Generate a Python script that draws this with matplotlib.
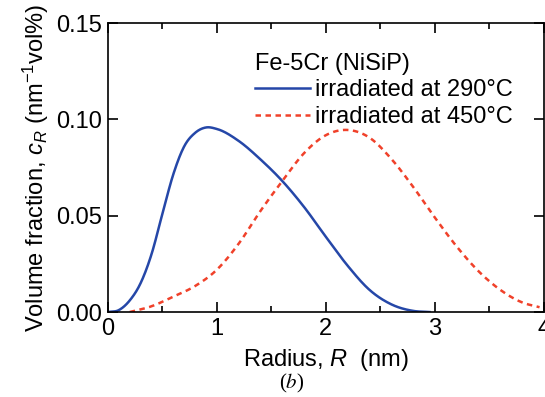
import numpy as np
import matplotlib
matplotlib.use('Agg')
import matplotlib.pyplot as plt
from matplotlib.ticker import MultipleLocator, FormatStrFormatter

plt.rcParams['font.family'] = ['Liberation Sans', 'DejaVu Sans']
plt.rcParams['mathtext.fontset'] = 'custom'
plt.rcParams['mathtext.rm'] = 'Liberation Sans'
plt.rcParams['mathtext.it'] = 'Liberation Sans:italic'

# blue curve: irradiated at 290 C
r_290 = [0.0, 0.1, 0.2, 0.3, 0.4, 0.5, 0.6, 0.7, 0.8, 0.9, 1.0, 1.2, 1.4,
         1.6, 1.8, 2.0, 2.2, 2.4, 2.6, 2.8, 2.95]
c_290 = [0.0, 0.001, 0.006, 0.015, 0.030, 0.051, 0.0715, 0.0860, 0.0930, 0.0958, 0.0950,
         0.0888, 0.0792, 0.0680, 0.0545, 0.0390, 0.0240, 0.0115, 0.0040, 0.0006, 0.0]

# red dashed curve: irradiated at 450 C
r_450 = [0.2, 0.4, 0.6, 0.8, 1.0, 1.2, 1.4, 1.6, 1.8, 2.0, 2.2, 2.4,
         2.6, 2.8, 3.0, 3.2, 3.4, 3.6, 3.8, 3.96]
c_450 = [0.0, 0.003, 0.008, 0.0135, 0.022, 0.0355, 0.0525, 0.068, 0.0825, 0.0918, 0.0945, 0.0905,
         0.0795, 0.0650, 0.0490, 0.0340, 0.0212, 0.0115, 0.0050, 0.0025]

labels = ['irradiated at 290°C', 'irradiated at 450°C']


def smooth(x, y):
    # cubic Hermite through the read points
    x = np.asarray(x, float)
    y = np.asarray(y, float)
    m = np.gradient(y, x)
    xs, ys = [], []
    for i in range(len(x) - 1):
        h = x[i + 1] - x[i]
        t = np.linspace(0, 1, 25, endpoint=False)
        h00 = 2 * t**3 - 3 * t**2 + 1
        h10 = t**3 - 2 * t**2 + t
        h01 = -2 * t**3 + 3 * t**2
        h11 = t**3 - t**2
        xs.append(x[i] + t * h)
        ys.append(h00 * y[i] + h10 * h * m[i] + h01 * y[i + 1] + h11 * h * m[i + 1])
    xs.append([x[-1]])
    ys.append([y[-1]])
    return np.concatenate(xs), np.clip(np.concatenate(ys), 0, None)


fig = plt.figure(figsize=(5.45, 3.97), dpi=100)
ax = fig.add_axes([0.198, 0.214, 0.800, 0.728])

x1, y1 = smooth(r_290, c_290)
x2, y2 = smooth(r_450, c_450)
ax.plot(x1, y1, color='#2547a8', lw=1.8, label=labels[0])
ax.plot(x2, y2, color='#f0412a', lw=1.8, ls=(0, (2.2, 1.8)), label=labels[1])

ax.set_xlim(0, 4)
ax.set_ylim(0, 0.15)
ax.xaxis.set_major_locator(MultipleLocator(1))
ax.xaxis.set_minor_locator(MultipleLocator(0.5))
ax.yaxis.set_major_locator(MultipleLocator(0.05))
ax.yaxis.set_major_formatter(FormatStrFormatter('%.2f'))
ax.tick_params(which='both', direction='in', top=True, right=True, width=1.2,
               labelsize=17, pad=4)
ax.tick_params(which='major', length=7)
ax.tick_params(which='minor', length=4)
for s in ax.spines.values():
    s.set_linewidth(1.2)

ax.set_xlabel('Radius, $\\it{R}$  (nm)', fontsize=17, labelpad=5)
ax.set_ylabel('Volume fraction, $c_R$ (nm$^{-1}$vol%)', fontsize=17, labelpad=4)

leg = ax.legend(loc='upper left', bbox_to_anchor=(0.338, 0.898), frameon=False,
                title='Fe-5Cr (NiSiP)', fontsize=17, title_fontsize=17,
                handlelength=2.3, handletextpad=0.25, labelspacing=0.2,
                borderaxespad=0, borderpad=0)
leg._legend_box.align = 'left'

fig.text(0.536, 0.006, '($b$)', fontsize=15, ha='center', va='bottom',
         math_fontfamily='stix', family='Liberation Serif')

fig.savefig('out.png', dpi=100)
